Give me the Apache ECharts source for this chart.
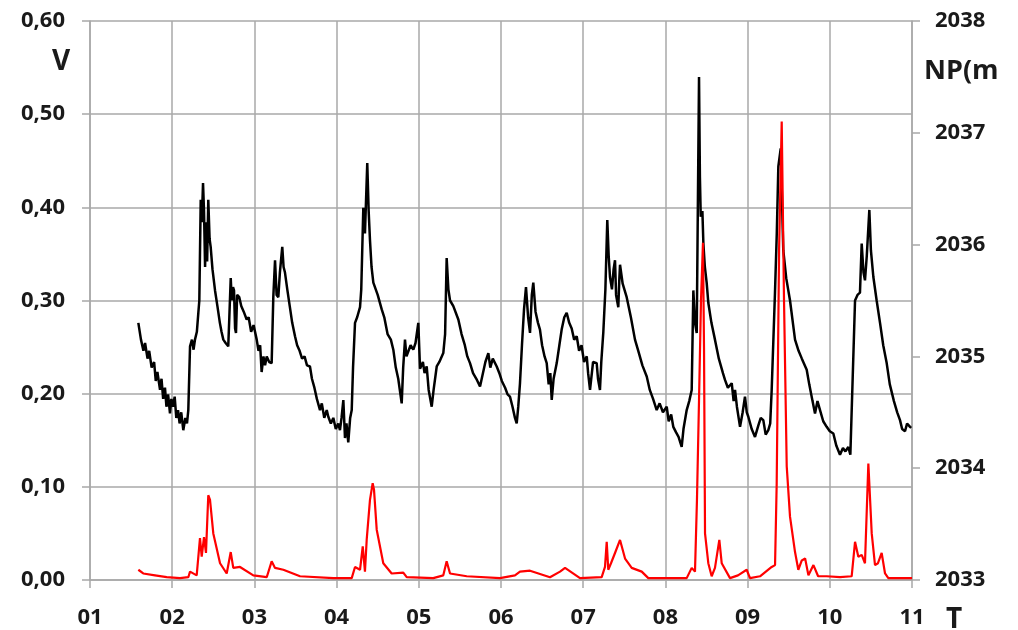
<!DOCTYPE html>
<html>
<head>
<meta charset="utf-8">
<script src="https://cdn.jsdelivr.net/npm/echarts@6/dist/echarts.min.js"></script>
<style>
html, body { margin: 0; background: #fff; }
#main { width: 1018px; height: 630px; }
</style>
</head>
<body>
<div id="main"></div>
<script type="text/javascript">
// time (x) and level NP (right axis) - black line
var npT = [1.588,1.62,1.65,1.67,1.70,1.72,1.75,1.78,1.80,1.82,
    1.852,1.87,1.89,1.912,1.93,1.95,1.973,1.99,2.010,2.03,
    2.05,2.071,2.09,2.11,2.135,2.16,2.18,2.196,2.217,2.24,
    2.26,2.277,2.30,2.318,2.33,2.347,2.36,2.375,2.387,2.40,
    2.411,2.425,2.439,2.455,2.468,2.49,2.521,2.55,2.58,2.60,
    2.622,2.65,2.682,2.695,2.712,2.725,2.74,2.752,2.765,2.776,
    2.79,2.816,2.84,2.87,2.906,2.93,2.96,2.99,3.028,3.05,
    3.07,3.088,3.11,3.13,3.150,3.18,3.210,3.230,3.251,3.27,
    3.291,3.31,3.339,3.355,3.372,3.40,3.43,3.46,3.494,3.52,
    3.55,3.58,3.61,3.64,3.676,3.70,3.73,3.76,3.798,3.82,
    3.85,3.88,3.899,3.93,3.96,3.99,4.02,4.041,4.06,4.082,
    4.102,4.12,4.142,4.165,4.184,4.20,4.224,4.25,4.285,4.30,
    4.325,4.345,4.373,4.39,4.406,4.425,4.447,4.50,4.549,4.58,
    4.62,4.66,4.690,4.72,4.75,4.792,4.81,4.832,4.85,4.872,
    4.90,4.933,4.96,4.994,5.015,5.05,5.07,5.096,5.12,5.157,
    5.18,5.218,5.25,5.298,5.32,5.339,5.36,5.380,5.42,5.481,
    5.52,5.56,5.59,5.623,5.66,5.70,5.745,5.78,5.81,5.846,
    5.87,5.90,5.948,5.98,6.01,6.05,6.08,6.109,6.14,6.17,
    6.191,6.21,6.231,6.255,6.280,6.304,6.33,6.353,6.375,6.393,
    6.42,6.45,6.474,6.50,6.53,6.556,6.58,6.60,6.617,6.64,
    6.678,6.71,6.738,6.77,6.799,6.83,6.86,6.89,6.921,6.95,
    6.98,7.01,7.043,7.06,7.083,7.12,7.164,7.18,7.204,7.22,
    7.245,7.27,7.293,7.31,7.326,7.35,7.37,7.387,7.40,7.427,
    7.44,7.448,7.48,7.529,7.58,7.630,7.67,7.72,7.773,7.81,
    7.85,7.894,7.93,7.97,8.016,8.04,8.07,8.096,8.13,8.16,
    8.198,8.22,8.259,8.29,8.320,8.340,8.36,8.381,8.409,8.42,
    8.430,8.45,8.462,8.48,8.502,8.522,8.56,8.603,8.65,8.70,
    8.725,8.76,8.807,8.83,8.847,8.87,8.908,8.94,8.968,8.99,
    9.009,9.05,9.090,9.13,9.16,9.191,9.22,9.252,9.275,9.293,
    9.333,9.355,9.374,9.403,9.434,9.47,9.516,9.577,9.62,9.66,
    9.719,9.75,9.79,9.820,9.85,9.881,9.92,9.962,10.00,10.043,
    10.08,10.124,10.16,10.19,10.225,10.25,10.266,10.307,10.337,10.367,
    10.388,10.41,10.428,10.45,10.481,10.50,10.530,10.57,10.611,10.65,
    10.692,10.73,10.78,10.82,10.854,10.88,10.915,10.94,10.976,10.99];
var npVal = [2035.30,2035.15,2035.05,2035.12,2034.98,2035.05,2034.90,2034.95,2034.78,2034.86,
    2034.70,2034.80,2034.62,2034.72,2034.55,2034.66,2034.49,2034.62,2034.55,2034.64,
    2034.45,2034.52,2034.40,2034.50,2034.34,2034.45,2034.40,2034.52,2035.09,2035.15,
    2035.06,2035.15,2035.22,2035.39,2035.50,2036.40,2036.20,2036.55,2036.30,2035.80,
    2036.20,2035.85,2036.40,2036.05,2035.98,2035.78,2035.59,2035.45,2035.30,2035.22,
    2035.15,2035.12,2035.09,2035.35,2035.70,2035.50,2035.62,2035.59,2035.25,2035.21,
    2035.55,2035.53,2035.45,2035.40,2035.33,2035.35,2035.22,2035.28,2035.15,2035.05,
    2035.10,2034.86,2035.00,2034.92,2035.00,2034.95,2034.94,2035.53,2035.86,2035.55,
    2035.53,2035.75,2035.98,2035.80,2035.75,2035.60,2035.45,2035.30,2035.18,2035.10,
    2035.05,2034.98,2035.00,2034.92,2034.91,2034.80,2034.72,2034.62,2034.52,2034.58,
    2034.45,2034.52,2034.46,2034.40,2034.45,2034.35,2034.40,2034.34,2034.45,2034.61,
    2034.27,2034.40,2034.23,2034.45,2034.52,2034.90,2035.30,2035.35,2035.44,2035.60,
    2036.33,2036.10,2036.73,2036.30,2036.04,2035.80,2035.66,2035.55,2035.42,2035.35,
    2035.20,2035.15,2035.06,2034.90,2034.80,2034.58,2034.90,2035.15,2035.00,2035.00,
    2035.10,2035.06,2035.12,2035.30,2034.89,2034.95,2034.85,2034.91,2034.70,2034.55,
    2034.70,2034.91,2034.95,2035.03,2035.20,2035.88,2035.60,2035.50,2035.45,2035.33,
    2035.20,2035.10,2035.00,2034.94,2034.85,2034.80,2034.73,2034.85,2034.95,2035.03,
    2034.90,2034.98,2034.91,2034.85,2034.78,2034.72,2034.66,2034.64,2034.55,2034.45,
    2034.40,2034.55,2034.76,2035.10,2035.42,2035.62,2035.35,2035.21,2035.55,2035.66,
    2035.40,2035.30,2035.24,2035.10,2035.00,2034.94,2034.75,2034.85,2034.61,2034.80,
    2034.94,2035.10,2035.24,2035.35,2035.39,2035.30,2035.25,2035.15,2035.18,2035.05,
    2035.10,2034.95,2035.00,2034.85,2034.70,2034.95,2034.94,2034.80,2034.70,2034.95,
    2035.22,2035.60,2036.22,2035.90,2035.71,2035.60,2035.78,2035.86,2035.55,2035.44,
    2035.70,2035.82,2035.65,2035.53,2035.35,2035.15,2035.05,2034.92,2034.82,2034.70,
    2034.62,2034.52,2034.58,2034.50,2034.55,2034.42,2034.48,2034.37,2034.32,2034.28,
    2034.19,2034.35,2034.52,2034.60,2034.70,2035.59,2035.30,2035.21,2037.50,2036.60,
    2036.25,2036.30,2036.01,2035.80,2035.66,2035.48,2035.30,2035.15,2034.98,2034.85,
    2034.79,2034.72,2034.76,2034.60,2034.70,2034.55,2034.37,2034.50,2034.64,2034.50,
    2034.46,2034.35,2034.28,2034.38,2034.45,2034.43,2034.30,2034.34,2034.40,2034.70,
    2035.57,2036.10,2036.70,2036.86,2035.95,2035.70,2035.50,2035.15,2035.05,2034.98,
    2034.88,2034.75,2034.60,2034.49,2034.60,2034.52,2034.42,2034.37,2034.33,2034.31,
    2034.20,2034.12,2034.18,2034.15,2034.19,2034.12,2034.13,2035.50,2035.55,2035.57,
    2036.01,2035.75,2035.68,2035.90,2036.31,2035.95,2035.71,2035.50,2035.30,2035.10,
    2034.94,2034.75,2034.60,2034.50,2034.43,2034.35,2034.33,2034.40,2034.37,2034.36];

// time (x) and V (left axis) - red line
var vT = [1.588,1.648,1.791,1.933,2.095,2.196,2.217,2.298,2.338,2.359,
    2.387,2.411,2.439,2.460,2.500,2.582,2.663,2.712,2.743,2.825,
    2.987,3.150,3.210,3.251,3.352,3.555,3.960,4.184,4.224,4.285,
    4.318,4.345,4.366,4.406,4.439,4.455,4.488,4.568,4.670,4.811,
    4.853,5.176,5.298,5.339,5.380,5.583,5.988,6.170,6.231,6.353,
    6.596,6.718,6.779,6.961,7.225,7.265,7.286,7.305,7.338,7.387,
    7.448,7.509,7.590,7.712,7.792,8.259,8.320,8.360,8.384,8.409,
    8.433,8.457,8.470,8.482,8.522,8.563,8.603,8.656,8.685,8.786,
    8.883,8.989,9.029,9.151,9.293,9.334,9.354,9.383,9.415,9.443,
    9.476,9.516,9.577,9.617,9.659,9.700,9.740,9.801,9.858,9.962,
    10.124,10.266,10.307,10.347,10.388,10.428,10.469,10.510,10.550,10.586,
    10.631,10.672,10.712,11.0];
var vVal = [0.011,0.007,0.005,0.003,0.002,0.003,0.009,0.005,0.045,0.025,
    0.046,0.029,0.091,0.086,0.050,0.018,0.007,0.030,0.013,0.014,
    0.005,0.003,0.020,0.013,0.011,0.004,0.002,0.002,0.014,0.011,
    0.036,0.009,0.043,0.086,0.104,0.097,0.054,0.018,0.007,0.008,
    0.003,0.002,0.005,0.020,0.007,0.004,0.002,0.005,0.009,0.010,
    0.003,0.009,0.013,0.002,0.003,0.014,0.041,0.011,0.018,0.029,
    0.043,0.023,0.013,0.009,0.002,0.002,0.013,0.009,0.086,0.193,
    0.300,0.362,0.247,0.050,0.018,0.004,0.013,0.043,0.018,0.002,
    0.005,0.011,0.002,0.004,0.014,0.016,0.104,0.354,0.492,0.300,
    0.122,0.068,0.030,0.011,0.021,0.023,0.005,0.016,0.004,0.004,
    0.003,0.004,0.041,0.025,0.027,0.018,0.125,0.050,0.016,0.018,
    0.029,0.007,0.002,0.002];

var gridColor = '#a8a8a8';
var labelFont = { fontFamily: 'Open Sans', fontWeight: 'bold', fontSize: 22, color: '#1a1a1a' };

function zip(a, b) {
    var out = [];
    for (var i = 0; i < a.length; i++) out.push([a[i], b[i]]);
    return out;
}

var myChart = echarts.init(document.getElementById('main'));
myChart.setOption({
    animation: false,
    backgroundColor: '#fff',
    grid: { left: 90, right: 106, top: 21, bottom: 50, outerBoundsMode: 'none' },
    xAxis: {
        type: 'value', min: 1, max: 11, interval: 1,
        axisLine: { show: true, lineStyle: { color: gridColor, width: 1.5 } },
        axisTick: { show: true, length: 8, lineStyle: { color: gridColor, width: 1.5 } },
        axisLabel: Object.assign({ margin: 27, formatter: function (v) { return (v < 10 ? '0' : '') + v; } }, labelFont),
        splitLine: { show: true, lineStyle: { color: gridColor, width: 1.5 } }
    },
    yAxis: [
        {
            type: 'value', min: 0, max: 0.6, interval: 0.1,
            axisLine: { show: true, lineStyle: { color: gridColor, width: 1.5 } },
            axisTick: { show: true, length: 8, lineStyle: { color: gridColor, width: 1.5 } },
            axisLabel: Object.assign({ margin: 25, formatter: function (v) { return v.toFixed(2).replace('.', ','); } }, labelFont),
            splitLine: { show: true, lineStyle: { color: gridColor, width: 1.5 } }
        },
        {
            type: 'value', position: 'right', min: 2033, max: 2038, interval: 1,
            axisLine: { show: true, lineStyle: { color: gridColor, width: 1.5 } },
            axisTick: { show: true, length: 8, lineStyle: { color: gridColor, width: 1.5 } },
            axisLabel: Object.assign({ margin: 23, formatter: function (v) { return String(v); } }, labelFont),
            splitLine: { show: false }
        }
    ],
    graphic: [
        { type: 'text', left: 52, top: 48, style: { text: 'V', font: 'bold 28px "Open Sans"', fill: '#1a1a1a' } },
        { type: 'text', left: 924, top: 58, style: { text: 'NP(m', font: 'bold 27px "Open Sans"', fill: '#1a1a1a' } },
        { type: 'text', left: 946, top: 606, style: { text: 'T', font: 'bold 28px "Open Sans"', fill: '#1a1a1a' } }
    ],
    series: [
        {
            name: 'NP', type: 'line', yAxisIndex: 1, showSymbol: false,
            data: zip(npT, npVal),
            lineStyle: { color: '#000', width: 2.5 }
        },
        {
            name: 'V', type: 'line', yAxisIndex: 0, showSymbol: false,
            data: zip(vT, vVal),
            lineStyle: { color: '#f00', width: 2.2 }
        }
    ]
});
</script>
</body>
</html>
